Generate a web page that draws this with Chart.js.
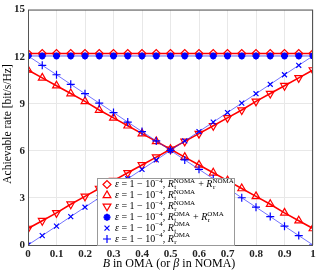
<!DOCTYPE html>
<html>
<head>
<meta charset="utf-8">
<script src="https://cdn.jsdelivr.net/npm/chart.js@4.4.0/dist/chart.umd.min.js"></script>
<style>
html, body { margin: 0; padding: 0; background: #fff; }
</style>
</head>
<body>
<canvas id="rateChart" width="319" height="272"></canvas>
<script>
// Datos
const xValues = [0, 0.05, 0.1, 0.15, 0.2, 0.25, 0.3, 0.35, 0.4, 0.45, 0.5,
                 0.55, 0.6, 0.65, 0.7, 0.75, 0.8, 0.85, 0.9, 0.95, 1];
const nomaSum = [12.2, 12.2, 12.2, 12.2, 12.2, 12.2, 12.2, 12.2, 12.2, 12.2, 12.2,
                 12.2, 12.2, 12.2, 12.2, 12.2, 12.2, 12.2, 12.2, 12.2, 12.2];
const nomaT = [11.15, 10.65, 10.15, 9.65, 9.15, 8.6, 8.1, 7.6, 7.1, 6.6, 6.1,
               5.6, 5.1, 4.6, 4.1, 3.6, 3.1, 2.6, 2.05, 1.55, 1.05];
const nomaR = [1.05, 1.55, 2.05, 2.6, 3.1, 3.6, 4.1, 4.6, 5.1, 5.6, 6.1,
               6.6, 7.1, 7.6, 8.1, 8.6, 9.15, 9.65, 10.15, 10.65, 11.15];
const omaSum = [12.05, 12.05, 12.05, 12.05, 12.05, 12.05, 12.05, 12.05, 12.05, 12.05, 12.05,
                12.05, 12.05, 12.05, 12.05, 12.05, 12.05, 12.05, 12.05, 12.05, 12.05];
const omaT = [0, 0.6, 1.2, 1.81, 2.41, 3.01, 3.62, 4.22, 4.82, 5.42, 6.03,
              6.63, 7.23, 7.83, 8.44, 9.04, 9.64, 10.24, 10.85, 11.45, 12.05];
const omaR = [12.05, 11.45, 10.85, 10.24, 9.64, 9.04, 8.44, 7.83, 7.23, 6.63, 6.03,
              5.42, 4.82, 4.22, 3.62, 3.01, 2.41, 1.81, 1.2, 0.6, 0];
const xTicks = [0, 0.1, 0.2, 0.3, 0.4, 0.5, 0.6, 0.7, 0.8, 0.9, 1];
const yTicks = [0, 3, 6, 9, 12, 15];

const RED = '#ff0000';
const BLUE = '#0000ff';
const BLUE_LINE = 'rgba(40,40,255,0.65)';
const SERIF = '"Liberation Serif", "DejaVu Serif", serif';

function toPoints(ys) {
    return xValues.map((x, i) => ({ x: x, y: ys[i] }));
}

function serie(label, ys, color, style, radius, opts) {
    return Object.assign({
        label: label,
        data: toPoints(ys),
        borderColor: color,
        backgroundColor: 'rgba(0,0,0,0)',
        pointBorderColor: color,
        pointBackgroundColor: 'rgba(0,0,0,0)',
        pointStyle: style,
        pointRadius: radius,
        pointBorderWidth: 1.2,
        borderWidth: 1.6,
        tension: 0
    }, opts || {});
}

// Leyenda: marcador + partes de texto (superindices / subindices)
const legendRows = [
    { color: RED, style: 'rectRot', radius: 4, fill: false, sym: ['t', 'NOMA', 'r', 'NOMA'] },
    { color: RED, style: 'triangle', radius: 4.5, fill: false, sym: ['t', 'NOMA'] },
    { color: RED, style: 'triangle', rotation: 180, radius: 4.5, fill: false, sym: ['r', 'NOMA'] },
    { color: BLUE, style: 'star', radius: 3.5, fill: true, sym: ['t', 'OMA', 'r', 'OMA'] },
    { color: BLUE, style: 'crossRot', radius: 3.5, fill: false, sym: ['t', 'OMA'] },
    { color: BLUE, style: 'cross', radius: 4, fill: false, sym: ['r', 'OMA'] }
];

function drawParts(ctx, x, y, parts) {
    parts.forEach(p => {
        if (p.stack) {
            ctx.font = '7px ' + SERIF;
            const w1 = ctx.measureText(p.stack[0]).width;
            const w2 = ctx.measureText(p.stack[1]).width;
            ctx.fillText(p.stack[0], x + 0.5, y + 3);
            ctx.fillText(p.stack[1], x, y - 3.5);
            x += Math.max(w1, w2) + 0.5;
        } else {
            ctx.font = p.font;
            ctx.fillText(p.t, x, y + (p.dy || 0));
            x += ctx.measureText(p.t).width;
        }
    });
    return x;
}

const extrasPlugin = {
    id: 'extras',
    afterDraw(chart) {
        const ctx = chart.ctx;
        const area = chart.chartArea;
        ctx.save();

        // caja de ejes
        ctx.strokeStyle = '#555';
        ctx.lineWidth = 1;
        ctx.strokeRect(area.left + 0.5, area.top + 0.5, area.right - area.left - 1, area.bottom - area.top);

        // titulo eje x
        ctx.fillStyle = '#000';
        ctx.textBaseline = 'middle';
        const it = 'italic 12px ' + SERIF;
        const rm = '12px ' + SERIF;
        const xParts = [
            { t: 'B', font: it }, { t: ' in OMA (or ', font: rm },
            { t: 'β', font: it }, { t: ' in NOMA)', font: rm }
        ];
        let w = 0;
        xParts.forEach(p => { ctx.font = p.font; w += ctx.measureText(p.t).width; });
        drawParts(ctx, 169 - w / 2, 264, xParts);

        // titulo eje y
        ctx.save();
        ctx.translate(8, 124);
        ctx.rotate(-Math.PI / 2);
        ctx.textAlign = 'center';
        ctx.font = '11.5px ' + SERIF;
        ctx.fillText('Achievable rate [bit/s/Hz]', 0, 0);
        ctx.restore();

        // leyenda
        const bx = 97, by = 178, bw = 137, bh = 67;
        ctx.fillStyle = '#fff';
        ctx.fillRect(bx, by, bw, bh);
        ctx.strokeStyle = '#999';
        ctx.strokeRect(bx + 0.5, by + 0.5, bw, bh);
        legendRows.forEach((row, i) => {
            const y = by + 6.5 + i * 10.9;
            ctx.strokeStyle = row.color;
            ctx.fillStyle = row.fill ? row.color : 'rgba(0,0,0,0)';
            ctx.lineWidth = row.fill ? 2 : 1.2;
            Chart.helpers.drawPoint(ctx, {
                pointStyle: row.style, radius: row.radius, rotation: row.rotation || 0, borderWidth: ctx.lineWidth
            }, 107, y);
            ctx.fillStyle = '#000';
            const it10 = 'italic 10px ' + SERIF;
            const rm10 = '10px ' + SERIF;
            const parts = [
                { t: 'ε', font: it10 }, { t: ' = 1 − 10', font: rm10 },
                { t: '−4', font: '7px ' + SERIF, dy: -3.5 }, { t: ', ', font: rm10 },
                { t: 'R', font: it10 }, { stack: [row.sym[0], row.sym[1]] }
            ];
            if (row.sym.length > 2) {
                parts.push({ t: ' + ', font: rm10 }, { t: 'R', font: it10 }, { stack: [row.sym[2], row.sym[3]] });
            }
            drawParts(ctx, 115, y, parts);
        });
        ctx.restore();
    }
};

const blueOpts = { order: 0, borderWidth: 1, borderColor: BLUE_LINE };

new Chart(document.getElementById('rateChart'), {
    type: 'line',
    data: {
        datasets: [
            serie('NOMA sum', nomaSum, RED, 'rectRot', 4, { order: 1 }),
            serie('NOMA t', nomaT, RED, 'triangle', 4.5, { order: 1 }),
            serie('NOMA r', nomaR, RED, 'triangle', 4.5, { order: 1, pointRotation: 180 }),
            serie('OMA sum', omaSum, BLUE, 'star', 3.5, Object.assign({}, blueOpts, { pointBorderWidth: 2, pointBackgroundColor: BLUE })),
            serie('OMA t', omaT, BLUE, 'crossRot', 3.5, blueOpts),
            serie('OMA r', omaR, BLUE, 'cross', 4, blueOpts)
        ]
    },
    options: {
        responsive: false,
        animation: false,
        layout: { padding: { top: 3, right: 6, left: 0, bottom: 0 } },
        plugins: { legend: { display: false }, tooltip: { enabled: false } },
        scales: {
            x: {
                type: 'linear', min: 0, max: 1,
                afterBuildTicks: s => { s.ticks = xTicks.map(v => ({ value: v })); },
                afterFit: s => { s.height = 27; },
                ticks: {
                    padding: 3, color: '#222', maxRotation: 0,
                    font: { family: SERIF, size: 11, weight: 'bold' },
                    callback: v => (v === 0 || v === 1) ? String(v) : v.toFixed(1)
                },
                grid: { color: '#e8e8e8', tickLength: 0 },
                border: { display: false }
            },
            y: {
                min: 0, max: 15,
                afterBuildTicks: s => { s.ticks = yTicks.map(v => ({ value: v })); },
                afterFit: s => { s.width = 28; },
                ticks: {
                    padding: 3, color: '#222',
                    font: { family: SERIF, size: 11, weight: 'bold' }
                },
                grid: { color: '#e8e8e8', tickLength: 0 },
                border: { display: false }
            }
        }
    },
    plugins: [extrasPlugin]
});
</script>
</body>
</html>
